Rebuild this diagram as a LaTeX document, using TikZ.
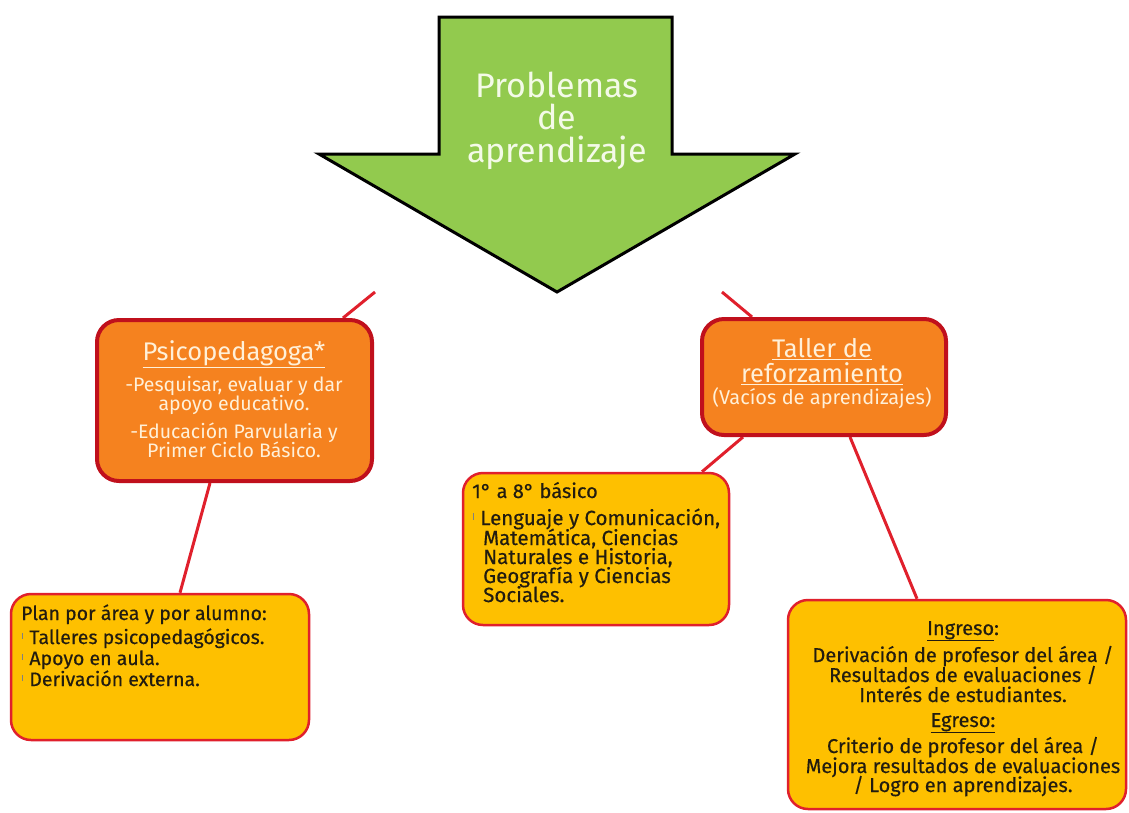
\documentclass[tikz,border=0pt]{standalone}
\usepackage{fontspec}
\setmainfont{Fira Sans}
\newfontfamily\ybody[FakeBold=0.4]{Fira Sans}
\usetikzlibrary{backgrounds}
\definecolor{arrowgreen}{HTML}{92CA4E}
\definecolor{boxorange}{HTML}{F5821F}
\definecolor{boxyellow}{HTML}{FEC000}
\definecolor{darkred}{HTML}{C0101C}
\definecolor{linered}{HTML}{E0202C}
\definecolor{cream}{HTML}{FFF0D8}
\definecolor{lightgreen}{HTML}{F4FAE8}
\definecolor{inkdark}{HTML}{221C10}
\newcommand{\bul}{{\color{gray}\rule[0.5ex]{1.2pt}{0.6ex}}}
\begin{document}
\begin{tikzpicture}[x=1pt,y=-1pt,
  orangebox/.style={draw=darkred, line width=4pt, fill=boxorange, rounded corners=22pt, inner sep=0pt},
  yellowbox/.style={draw=linered, line width=2.5pt, fill=boxyellow, rounded corners=20pt, inner sep=0pt},
  conn/.style={draw=linered, line width=3pt},
  bigtxt/.style={inner sep=0pt, anchor=base, text=lightgreen, font=\fontsize{34}{36}\selectfont},
  titletxt/.style={inner sep=0pt, anchor=base, text=cream, font=\fontsize{25.5}{28}\selectfont},
  otxt/.style={inner sep=0pt, anchor=base, text=cream, font=\fontsize{19.5}{22}\selectfont},
  ytxt/.style={inner sep=0pt, anchor=base, text=inkdark, font=\ybody\fontsize{20}{22}\selectfont},
  ytxtl/.style={ytxt, anchor=base west}
]
\useasboundingbox (0,0) rectangle (1129,812);
% free ends of the upper connectors
\coordinate (cL) at (375,292);
\coordinate (cR) at (722,292);
% big arrow
\draw[fill=arrowgreen, draw=black, line width=3pt, miter limit=20]
  (439,17) -- (672,17) -- (672,154) -- (795,154) -- (557,292) -- (319,154) -- (439,154) -- cycle;
\node[bigtxt] (t1) at (557,97) {Problemas};
\node[bigtxt] (t2) at (557,129) {de};
\node[bigtxt] (t3) at (557,162) {aprendizaje};
% boxes
\node[orangebox, minimum width=275pt, minimum height=161pt] (psico) at (234.5,400.5) {};
\node[orangebox, minimum width=244pt, minimum height=116pt] (taller) at (824,377) {};
\node[yellowbox, minimum width=266pt, minimum height=152pt] (basico) at (596,549) {};
\node[yellowbox, minimum width=298pt, minimum height=146pt] (plan) at (160,667) {};
\node[yellowbox, minimum width=338pt, minimum height=209pt] (ingreso) at (957,704.5) {};
% connectors (behind everything)
\begin{scope}[on background layer]
\draw[conn] (cL) -- ([xshift=108.5pt]psico.north);
\draw[conn] (cR) -- ([xshift=-72pt]taller.north);
\draw[conn] ([xshift=-24.5pt]psico.south) -- ([xshift=20pt]plan.north);
\draw[conn] ([xshift=-81pt]taller.south) -- ([xshift=106pt]basico.north);
\draw[conn] ([xshift=26pt]taller.south) -- ([xshift=-40pt]ingreso.north);
\end{scope}
% psicopedagoga text
\node[titletxt] (p0) at (234,360) {\underline{Psicopedagoga*}};
\node[otxt] (p1) at (234,391) {-Pesquisar, evaluar y dar};
\node[otxt] (p2) at (234,410) {apoyo educativo.};
\node[otxt] (p3) at (234,438) {-Educación Parvularia y};
\node[otxt] (p4) at (234,457) {Primer Ciclo Básico.};
% taller text
\node[titletxt] (q0) at (822,357) {\underline{Taller de}};
\node[titletxt] (q1) at (822,382) {\underline{reforzamiento}};
\node[otxt, font=\fontsize{20}{22}\selectfont] (q2) at (822,404) {(Vacíos de aprendizajes)};
% basico text
\node[ytxtl] (b0) at (472,498) {1° a 8° básico};
\node[ytxtl, font=\ybody\fontsize{20.5}{22}\selectfont] (b1) at (473,525) {\bul\hspace{6pt}Lenguaje y Comunicación,};
\node[ytxtl, font=\ybody\fontsize{20.5}{22}\selectfont] (b2) at (483,545) {Matemática, Ciencias};
\node[ytxtl, font=\ybody\fontsize{20.5}{22}\selectfont] (b3) at (483,564) {Naturales e Historia,};
\node[ytxtl, font=\ybody\fontsize{20.5}{22}\selectfont] (b4) at (483,583) {Geografía y Ciencias};
\node[ytxtl, font=\ybody\fontsize{20.5}{22}\selectfont] (b5) at (483,602) {Sociales.};
% plan text
\node[ytxtl, font=\ybody\fontsize{19.5}{22}\selectfont] (l0) at (21,620) {Plan por área y por alumno:};
\node[ytxtl, font=\ybody\fontsize{19.5}{22}\selectfont] (l1) at (22,644) {\bul\hspace{6pt}Talleres psicopedagógicos.};
\node[ytxtl, font=\ybody\fontsize{19.5}{22}\selectfont] (l2) at (22,665) {\bul\hspace{6pt}Apoyo en aula.};
\node[ytxtl, font=\ybody\fontsize{19.5}{22}\selectfont] (l3) at (22,686) {\bul\hspace{6pt}Derivación externa.};
% ingreso text
\node[ytxt] (i0) at (963,635) {\underline{Ingreso}:};
\node[ytxt] (i1) at (963,662) {Derivación de profesor del área /};
\node[ytxt] (i2) at (963,682) {Resultados de evaluaciones /};
\node[ytxt] (i3) at (963,702) {Interés de estudiantes.};
\node[ytxt] (i4) at (963,727) {\underline{Egreso:}};
\node[ytxt] (i5) at (963,753) {Criterio de profesor del área /};
\node[ytxt] (i6) at (963,773) {Mejora resultados de evaluaciones};
\node[ytxt] (i7) at (963,792) {/ Logro en aprendizajes.};
\end{tikzpicture}
\end{document}
